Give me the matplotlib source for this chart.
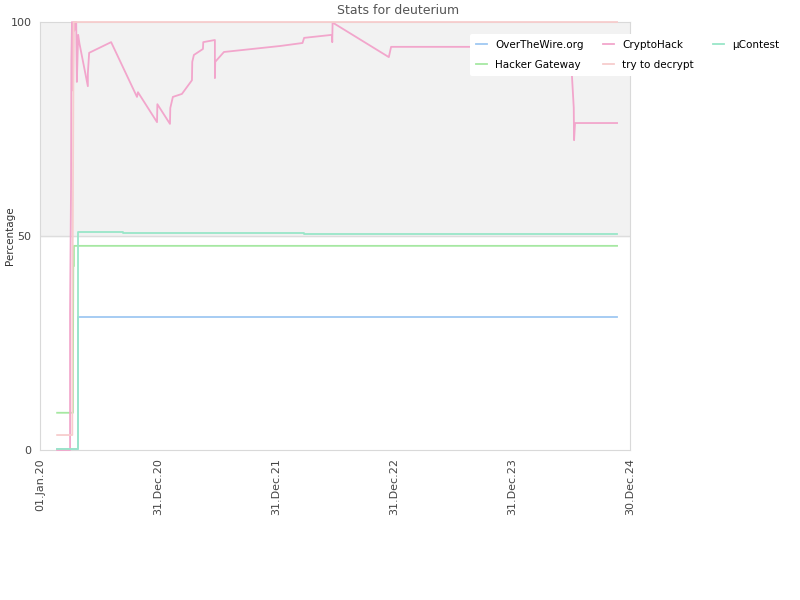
import numpy as np
import matplotlib
matplotlib.use("Agg")
import matplotlib.pyplot as plt

base = np.datetime64("2020-01-01")

# series: days since 2020-01-01, percentage
otw_days = [53, 118, 118, 1785]
otw_vals = [0.3, 0.3, 31.1, 31.1]

hg_days = [53, 102, 102, 103, 105, 105, 1785]
hg_vals = [8.7, 8.7, 20.0, 43.0, 43.0, 47.7, 47.7]

ch_days = [53, 93, 93, 96, 97, 99, 102, 104, 106, 108, 112, 114, 118, 120, 122,
           148, 148, 152, 220, 300, 303, 362, 363, 402, 403, 411, 439, 470, 471,
           476, 504, 505, 541, 541, 542, 569, 743, 812, 817, 903, 904, 905, 911,
           1079, 1086, 1642, 1645, 1651, 1652, 1655, 1785]
ch_vals = [0, 0, 32, 62, 91, 100, 84, 100, 98, 100, 100, 86, 97, 96, 95,
           85, 88, 92.8, 95.3, 82.5, 83.6, 76.6, 80.8, 76.2, 79.9, 82.5, 83.2, 86.4, 90.7,
           92.3, 93.7, 95.3, 95.8, 86.9, 90.7, 93.0, 94.4, 95.1, 96.3, 97.0, 95.3, 99.8, 99.6,
           91.8, 94.2, 94.2, 88.0, 80.0, 72.4, 76.4, 76.4]

ttd_days = [53, 100, 100, 102, 104, 1785]
ttd_vals = [3.5, 3.5, 30, 60, 100, 100]

mu_days = [53, 118, 118, 258, 258, 541, 541, 817, 817, 1785]
mu_vals = [0.3, 0.3, 51.0, 51.0, 50.8, 50.8, 50.6, 50.6, 50.4, 50.4]

series = [
    ("OverTheWire.org", otw_days, otw_vals, "#9fc8f2"),
    ("Hacker Gateway", hg_days, hg_vals, "#a6e8a2"),
    ("CryptoHack", ch_days, ch_vals, "#f2a6cc"),
    ("try to decrypt", ttd_days, ttd_vals, "#f7cdcd"),
    ("\u00b5Contest", mu_days, mu_vals, "#99e6c8"),
]

tick_dates = ["2020-01-01", "2020-12-31", "2021-12-31", "2022-12-31", "2023-12-31", "2024-12-30"]
tick_labels = ["01.Jan.20", "31.Dec.20", "31.Dec.21", "31.Dec.22", "31.Dec.23", "30.Dec.24"]

fig = plt.figure(figsize=(8, 6), dpi=100)
ax = fig.add_axes([0.05, 0.25, 0.7375, 0.7133])

ax.axhspan(50, 100, color="#f2f2f2", zorder=0)
ax.axhline(50, color="#dddddd", lw=1, zorder=0.5)

for name, d, v, c in series:
    x = base + np.array(d, dtype="timedelta64[D]")
    ax.plot(x, v, color=c, lw=1.3, label=name, zorder=3, clip_on=False)

ax.set_ylim(0, 100)
ax.set_xlim(np.datetime64(tick_dates[0]), np.datetime64(tick_dates[-1]))
ax.set_yticks([0, 50, 100])
ax.set_yticklabels(["0", "50", "100"])
ax.set_xticks([np.datetime64(t) for t in tick_dates])
ax.set_xticklabels(tick_labels, rotation=90)
ax.tick_params(length=0, labelsize=8, colors="#444444", pad=6)
for s in ax.spines.values():
    s.set_color("#d9d9d9")
    s.set_zorder(1)
ax.set_ylabel("Percentage", fontsize=7.5, color="#333333")
ax.yaxis.set_label_coords(-0.043, 0.5)

fig.text(0.4975, 0.982, "Stats for deuterium", ha="center", va="center",
         fontsize=9, color="#555555")

leg = ax.legend(ncol=3, loc="upper left", bbox_to_anchor=(0.72, 0.985),
                frameon=True, fontsize=7.5, handlelength=1.0, columnspacing=1.9,
                borderpad=0.6, labelspacing=0.95)
leg.get_frame().set_edgecolor("none")
leg.get_frame().set_facecolor("white")
leg.get_frame().set_alpha(1)
leg.set_zorder(5)

fig.savefig("out.png", dpi=100)
